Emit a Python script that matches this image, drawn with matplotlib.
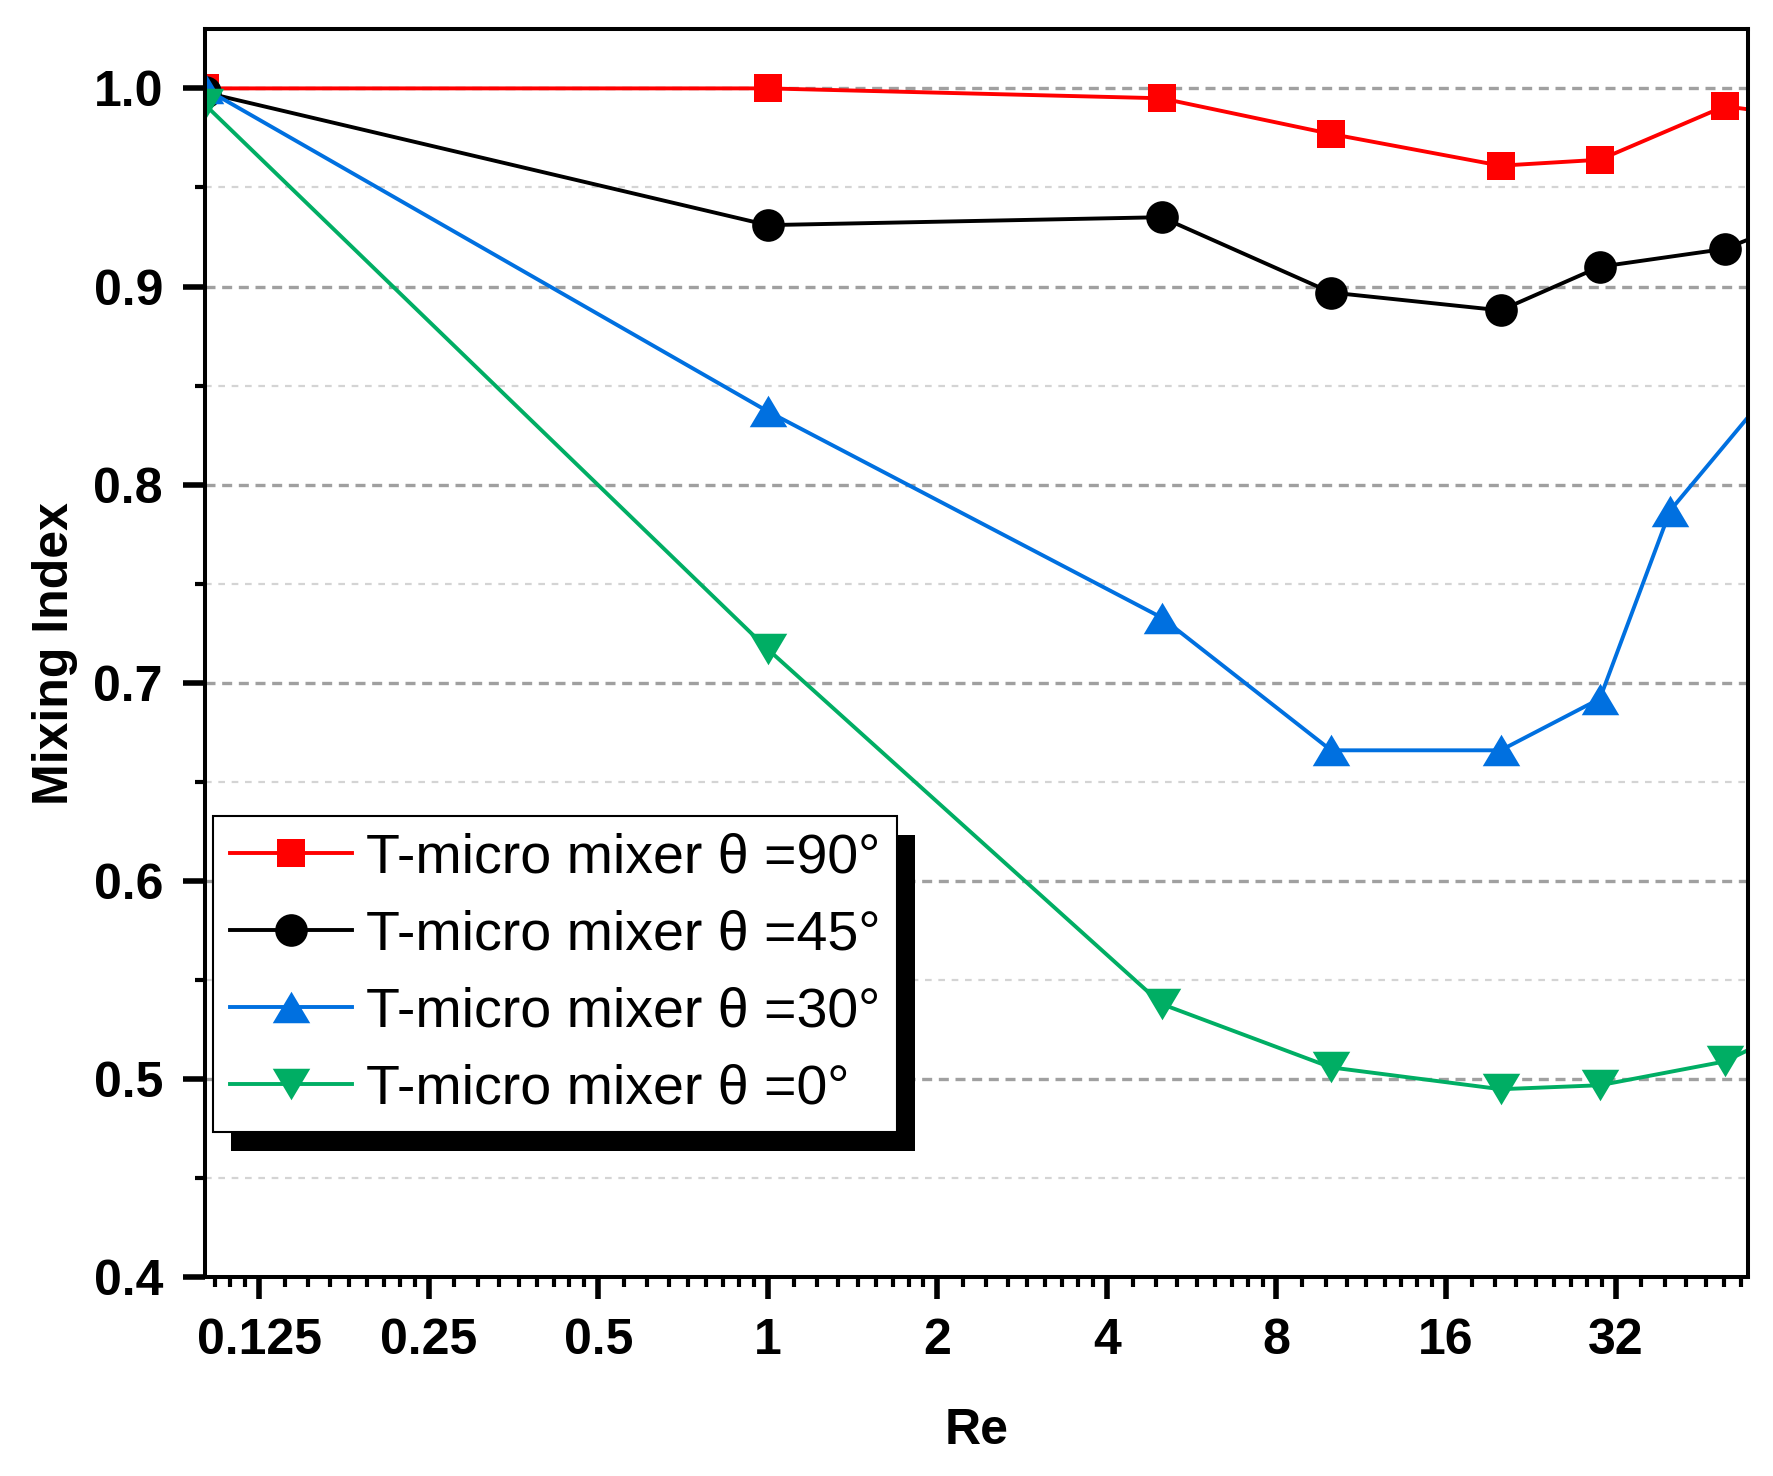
import matplotlib
matplotlib.use("Agg")
import matplotlib.pyplot as plt
from matplotlib.patches import Rectangle
import numpy as np

# data (Re on a log2 axis)
re_90 = [0.1, 1, 5, 10, 20, 30, 50, 60]
mix_90 = [1.000, 1.000, 0.995, 0.977, 0.961, 0.964, 0.991, 0.988]
re_45 = [0.1, 1, 5, 10, 20, 30, 50, 60]
mix_45 = [0.998, 0.931, 0.935, 0.897, 0.888, 0.910, 0.919, 0.928]
re_30 = [0.1, 1, 5, 10, 20, 30, 40, 60]
mix_30 = [1.000, 0.837, 0.733, 0.666, 0.666, 0.692, 0.787, 0.847]
re_0 = [0.1, 1, 5, 10, 20, 30, 50, 60]
mix_0 = [0.992, 0.717, 0.538, 0.506, 0.495, 0.497, 0.509, 0.520]

labels = ["T-micro mixer θ =90°", "T-micro mixer θ =45°",
          "T-micro mixer θ =30°", "T-micro mixer θ =0°"]
colors = ["#ff0000", "#000000", "#0070e0", "#00ae64"]

x_ticks = [0.125, 0.25, 0.5, 1, 2, 4, 8, 16, 32]
x_ticklabels = ["0.125", "0.25", "0.5", "1", "2", "4", "8", "16", "32"]
y_ticks = [0.4, 0.5, 0.6, 0.7, 0.8, 0.9, 1.0]

plt.rcParams["font.family"] = ["Liberation Sans", "DejaVu Sans"]

up_tri = [(0, 0.84), (-1, -0.84), (1, -0.84), (0, 0.84)]
down_tri = [(0, -0.84), (-1, 0.84), (1, 0.84), (0, -0.84)]

fig = plt.figure(figsize=(17.74, 14.76), dpi=100)
ax = fig.add_axes([0.1153, 0.1345, 0.8701, 0.8459])

ax.plot(re_90, mix_90, color=colors[0], lw=2.8, marker="s", ms=20.5, mew=0, label=labels[0])
ax.plot(re_45, mix_45, color=colors[1], lw=2.8, marker="o", ms=23.5, mew=0, label=labels[1])
ax.plot(re_30, mix_30, color=colors[2], lw=2.8, marker=up_tri, ms=27, mew=0, label=labels[2])
ax.plot(re_0, mix_0, color=colors[3], lw=2.8, marker=down_tri, ms=27, mew=0, label=labels[3])

ax.set_xscale("log", base=2)
ax.set_xlim(0.1, 55)
ax.set_ylim(0.4, 1.03)

ax.set_xticks(x_ticks, x_ticklabels)
minor_x = [2.0 ** n * (1 + k / 9) for n in range(-5, 7) for k in range(1, 9)]
ax.xaxis.set_minor_locator(matplotlib.ticker.FixedLocator(minor_x))
ax.xaxis.set_minor_formatter(matplotlib.ticker.NullFormatter())
ax.set_yticks(y_ticks)
ax.yaxis.set_major_formatter(matplotlib.ticker.FormatStrFormatter("%.1f"))
ax.yaxis.set_minor_locator(matplotlib.ticker.MultipleLocator(0.05))

for s in ax.spines.values():
    s.set_linewidth(2.9)
ax.tick_params(which="major", direction="out", length=16, width=4, labelsize=36)
ax.tick_params(which="minor", direction="out", length=7.5, width=3)
ax.tick_params(axis="x", which="major", pad=13)
ax.tick_params(axis="y", which="major", pad=14)
for t in ax.get_xticklabels() + ax.get_yticklabels():
    t.set_fontweight("bold")

ax.set_axisbelow(True)
ax.grid(True, axis="y", which="major", color="#a0a0a0", lw=2.4, ls=(0, (3, 2)))
ax.grid(True, axis="y", which="minor", color="#d4d4d4", lw=1.6, ls=(0, (3, 3)))
ax.grid(False, axis="x", which="both")

ax.set_xlabel("Re", fontsize=36, fontweight="bold", labelpad=32)
ax.set_ylabel("Mixing Index", fontsize=36, fontweight="bold", labelpad=11)

leg = ax.legend(loc="upper left", bbox_to_anchor=(0.0055, 0.3696), borderaxespad=0,
                fontsize=40, handlelength=2.2, handletextpad=0.25, labelspacing=0.45,
                borderpad=0.3, fancybox=False, framealpha=1, edgecolor="black")
leg.get_frame().set_linewidth(1.5)
leg.set_zorder(5)

# solid black drop shadow behind the legend box
fig.canvas.draw()
bb = leg.get_frame().get_window_extent(fig.canvas.get_renderer())
inv = ax.transAxes.inverted()
(x0, y0), (x1, y1) = inv.transform([[bb.x0 + 18, bb.y0 - 19], [bb.x1 + 18, bb.y1 - 19]])
ax.add_patch(Rectangle((x0, y0), x1 - x0, y1 - y0, transform=ax.transAxes,
                       facecolor="black", lw=0, clip_on=False, zorder=4.9))

fig.savefig("out.png", dpi=100)
